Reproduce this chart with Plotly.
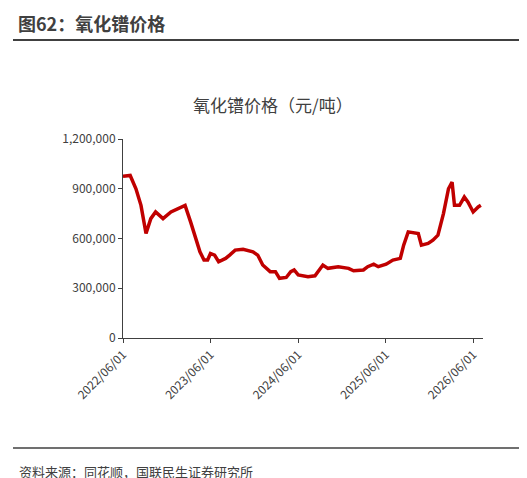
import plotly.graph_objects as go

dates = ["2022-06-01","2022-07-01","2022-07-25","2022-08-15","2022-09-05","2022-09-25","2022-10-15","2022-11-15","2022-12-18","2023-01-15","2023-02-15","2023-03-10","2023-04-01","2023-04-18","2023-05-05","2023-05-20","2023-06-01","2023-06-18","2023-07-05","2023-08-03","2023-08-20","2023-09-12","2023-10-15","2023-11-25","2023-12-15","2024-01-05","2024-02-05","2024-02-27","2024-03-15","2024-04-12","2024-05-01","2024-05-15","2024-06-01","2024-07-12","2024-08-10","2024-08-22","2024-09-12","2024-10-03","2024-11-15","2024-12-28","2025-01-18","2025-02-28","2025-03-18","2025-04-12","2025-05-01","2025-06-03","2025-07-01","2025-08-01","2025-08-15","2025-09-03","2025-10-15","2025-10-28","2025-11-25","2025-12-15","2026-01-05","2026-01-28","2026-02-18","2026-03-05","2026-03-15","2026-04-05","2026-04-25","2026-05-10","2026-06-01","2026-06-22","2026-07-03"]
prices = [975000,980000,900000,800000,630000,720000,760000,720000,760000,780000,800000,700000,600000,520000,470000,470000,510000,500000,460000,480000,500000,530000,535000,520000,500000,440000,400000,400000,360000,365000,400000,410000,380000,370000,375000,400000,440000,420000,430000,420000,405000,410000,430000,445000,430000,445000,470000,480000,560000,640000,630000,560000,570000,590000,620000,750000,900000,940000,800000,800000,850000,820000,760000,790000,800000]
tick_vals = ["2022-06-01","2023-06-01","2024-06-01","2025-06-01","2026-06-01"]
tick_text = ["2022/06/01","2023/06/01","2024/06/01","2025/06/01","2026/06/01"]
y_ticks = [0,300000,600000,900000,1200000]
y_text = ["0","300,000","600,000","900,000","1,200,000"]

font = "Noto Sans CJK SC"
fig = go.Figure(go.Scatter(x=dates, y=prices, mode="lines", line=dict(color="#C00000", width=3.5)))
fig.update_layout(
    width=527, height=478, margin=dict(l=115, r=52, t=131, b=148),
    plot_bgcolor="white", paper_bgcolor="white", showlegend=False,
    font=dict(family=font, size=12, color="#404040"),
    xaxis=dict(type="date", range=["2022-06-01","2026-07-12"], tickvals=tick_vals, ticktext=tick_text,
               tickangle=-45, showgrid=False, showline=True, linecolor="#404040", linewidth=1,
               ticks="outside", ticklen=4, tickcolor="#404040", automargin=False),
    yaxis=dict(range=[0,1200000], tickvals=y_ticks, ticktext=y_text, showgrid=False, showline=True,
               linecolor="#404040", linewidth=1, ticks="outside", ticklen=4, tickcolor="#404040", automargin=False),
    shapes=[
        dict(type="line", xref="paper", yref="paper", x0=-110/360, x1=(527-8-115)/360, y0=(478-148-32)/199, y1=(478-148-32)/199, line=dict(color="#404040", width=2)),
        dict(type="line", xref="paper", yref="paper", x0=-110/360, x1=(527-5-115)/360, y0=(478-148-440)/199, y1=(478-148-440)/199, line=dict(color="#404040", width=1.5)),
    ],
    annotations=[
        dict(text="<b>图62：氧化镨价格</b>", xref="paper", yref="paper", x=-107/360, y=(478-148-15)/199, xanchor="left", yanchor="middle", showarrow=False, font=dict(size=18, color="#404040")),
        dict(text="氧化镨价格（元/吨）", xref="paper", yref="paper", x=(265-115)/360, y=(478-148-97)/199, xanchor="center", yanchor="middle", showarrow=False, font=dict(size=17, color="#404040")),
        dict(text="资料来源：同花顺，国联民生证券研究所", xref="paper", yref="paper", x=-106/360, y=(478-148-463)/199, xanchor="left", yanchor="middle", showarrow=False, font=dict(size=13, color="#404040")),
    ],
)
fig.write_html("out.html")
